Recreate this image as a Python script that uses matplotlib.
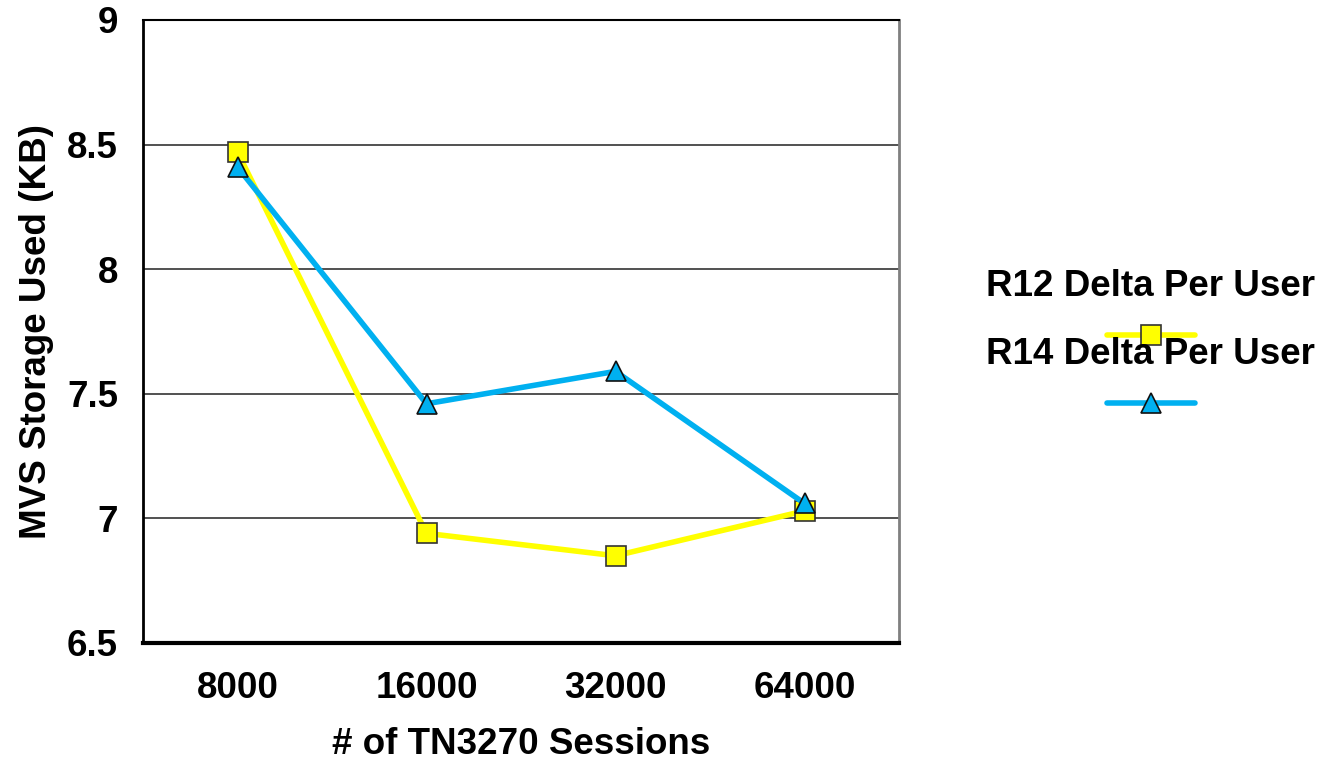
import matplotlib
matplotlib.use('Agg')
import matplotlib.pyplot as plt
import matplotlib.lines as lines

plt.rcParams['font.family'] = ['Liberation Sans', 'DejaVu Sans']
plt.rcParams['font.weight'] = 'bold'

# data
sessions = ['8000', '16000', '32000', '64000']
r12 = [8.47, 6.94, 6.85, 7.03]
r14 = [8.41, 7.46, 7.59, 7.06]
yticks = [6.5, 7, 7.5, 8, 8.5, 9]
ytick_labels = ['6.5', '7', '7.5', '8', '8.5', '9']
series_names = ['R12 Delta Per User', 'R14 Delta Per User']

yellow = '#ffff00'
blue = '#00b0f0'
fs = 26.5

fig = plt.figure(figsize=(13.28, 7.63), dpi=100)
ax = fig.add_axes([143/1328, 120/763, 756/1328, 623/763])

x = range(len(sessions))
ax.plot(x, r12, color=yellow, linewidth=4, marker='s', markersize=14,
        markerfacecolor=yellow, markeredgecolor='#333333', markeredgewidth=1.2, zorder=3)
ax.plot(x, r14, color=blue, linewidth=4, marker='^', markersize=15,
        markerfacecolor=blue, markeredgecolor='#111111', markeredgewidth=1.2, zorder=4)

ax.set_xlim(-0.5, len(sessions) - 0.5)
ax.set_ylim(6.5, 9)
ax.set_xticks(list(x))
ax.set_xticklabels(sessions)
ax.set_yticks(yticks)
ax.set_yticklabels(ytick_labels)
ax.tick_params(length=0, labelsize=fs)
ax.tick_params(axis='x', pad=20)
ax.tick_params(axis='y', pad=18)
for lbl in ax.get_xticklabels() + ax.get_yticklabels():
    lbl.set_fontweight('bold')

for yv in yticks[1:-1]:
    ax.axhline(yv, color='#333333', linewidth=1.2, zorder=1)

ax.spines['left'].set_linewidth(2)
ax.spines['bottom'].set_linewidth(3)
ax.spines['top'].set_linewidth(1.5)
ax.spines['right'].set_linewidth(2)
ax.spines['right'].set_color('#808080')

ax.set_xlabel('# of TN3270 Sessions', fontsize=fs, fontweight='bold', labelpad=15)
ax.set_ylabel('MVS Storage Used (KB)', fontsize=fs, fontweight='bold', labelpad=9)

# legend drawn by hand
text_y = [1 - 287/763, 1 - 355/763]
line_y = [1 - 335/763, 1 - 403/763]
styles = [(yellow, 's', '#333333', 14), (blue, '^', '#111111', 15)]
for name, ty, ly, (c, m, ec, ms) in zip(series_names, text_y, line_y, styles):
    fig.text(1150/1328, ty, name, fontsize=fs, fontweight='bold', ha='center', va='center')
    fig.add_artist(lines.Line2D([1107/1328, 1195/1328], [ly, ly], color=c, linewidth=4,
                                solid_capstyle='round', transform=fig.transFigure))
    fig.add_artist(lines.Line2D([1151/1328], [ly], marker=m, markersize=ms, color=c,
                                markeredgecolor=ec, markeredgewidth=1.2, transform=fig.transFigure))

fig.savefig('out.png', dpi=100)
